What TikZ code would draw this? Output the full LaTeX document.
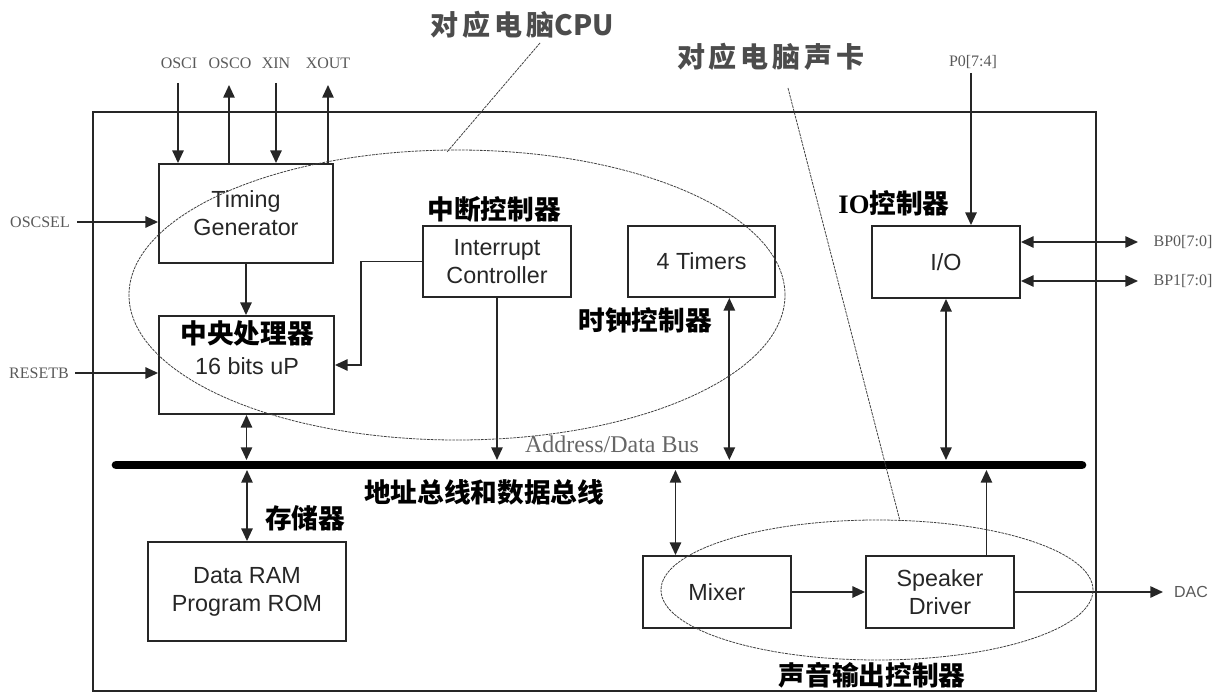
\documentclass[tikz,border=0pt]{standalone}
\usepackage{fontspec}
\setmainfont{Liberation Sans}
\newfontfamily\serif{Liberation Serif}
\newfontfamily\cjk{Noto Sans CJK SC}
\usetikzlibrary{arrows.meta,calc}
\tikzset{
  box/.style={draw=black!85, line width=1.4pt, inner sep=0pt},
  boxtxt/.style={font=\fontsize{17.5}{21}\selectfont, text=black!85, align=center},
  pin/.style={font=\serif\fontsize{12}{12}\selectfont, text=black!65, inner sep=0pt},
  cjklabel/.style={font=\cjk\bfseries\fontsize{20}{20}\selectfont, text=black, inner sep=0pt},
  toplabel/.style={font=\cjk\bfseries\fontsize{21}{21}\selectfont, text=black!70, inner sep=0pt},
  arr/.style={-{Triangle[length=9.5pt,width=8.5pt]}, line width=1.3pt, draw=black!85},
  dbl/.style={{Triangle[length=9.5pt,width=8.5pt]}-{Triangle[length=9.5pt,width=8.5pt]}, line width=1.3pt, draw=black!85},
  hint/.style={draw=black!75, line width=0.6pt, dash pattern=on 2pt off 0.7pt},
  busline/.style={line width=6.5pt, line cap=round, draw=black}
}
\begin{document}
\begin{tikzpicture}[x=0.75pt,y=-0.75pt]
\useasboundingbox (0,0) rectangle (1218,695);
% outer frame
\node[box, minimum width=752.25pt, minimum height=434.25pt] (outer) at (594.5,401.5) {};
% blocks
\node[box, boxtxt, minimum width=130.5pt, minimum height=74.25pt] (tg) at (246,213.5) {Timing\\Generator};
\node[box, minimum width=131.25pt, minimum height=73.5pt] (cpu) at (246.5,365) {};
\node[cjklabel] (cpuzh) at (247,333) {中央处理器};
\node[boxtxt] (cpuen) at (247,366) {16 bits uP};
\node[box, boxtxt, minimum width=111pt, minimum height=53.25pt] (int) at (497,261.5) {Interrupt\\Controller};
\node[box, boxtxt, minimum width=110.25pt, minimum height=53.25pt] (tim) at (701.5,261.5) {4 Timers};
\node[box, boxtxt, minimum width=111pt, minimum height=54pt] (io) at (946,262) {I/O};
\node[box, boxtxt, minimum width=148.5pt, minimum height=74.25pt] (ram) at (247,591.5) {Data RAM\\Program ROM};
\node[box, boxtxt, minimum width=111pt, minimum height=54pt] (mix) at (717,592) {Mixer};
\node[box, boxtxt, minimum width=111pt, minimum height=54pt] (spk) at (940,592) {Speaker\\Driver};
% bus
\coordinate (busL) at (116,465);
\coordinate (busR) at (1082,465);
\coordinate (busT) at (0,460);
\coordinate (busB) at (0,470);
\draw[busline] (busL) -- (busR);
\node[font=\serif\fontsize{18}{18}\selectfont, text=black!60, inner sep=0pt] (buslbl) at (612,444) {Address/Data Bus};
% pins
\coordinate (osci) at (178,83);
\coordinate (osco) at (229,85);
\coordinate (xin) at (276,83);
\coordinate (xout) at (328,85);
\node[pin] (osciL) at (179,63) {OSCI};
\node[pin] (oscoL) at (230,63) {OSCO};
\node[pin] (xinL) at (276,63) {XIN};
\node[pin] (xoutL) at (328,63) {XOUT};
\draw[arr] (osci) -- (osci |- tg.north);
\draw[arr] (osco |- tg.north) -- (osco);
\draw[arr] (xin) -- (xin |- tg.north);
\draw[arr] (xout |- tg.north) -- (xout);
\coordinate (oscsel) at (77,222);
\node[pin] (oscselL) at (40,222) {OSCSEL};
\draw[arr] (oscsel) -- (oscsel -| tg.west);
\coordinate (resetb) at (75,373);
\node[pin] (resetbL) at (39,373) {RESETB};
\draw[arr] (resetb) -- (resetb -| cpu.west);
\coordinate (p0) at (971,73);
\node[pin] (p0L) at (973,62) {P0[7:4]};
\draw[arr] (p0) -- (p0 |- io.north);
\coordinate (bp0) at (1138,242);
\coordinate (bp1) at (1138,281);
\node[pin] (bp0L) at (1183,242) {BP0[7:0]};
\node[pin] (bp1L) at (1183,281) {BP1[7:0]};
\draw[dbl] (bp0 -| io.east) -- (bp0);
\draw[dbl] (bp1 -| io.east) -- (bp1);
\coordinate (dac) at (1163,592);
\node[pin, font=\fontsize{12}{12}\selectfont] (dacL) at (1191,592) {DAC};
\draw[arr] (spk.east) -- (dac);
% internal connections
\draw[arr] (tg.south) -- (tg.south |- cpu.north);
\draw[arr] (int.west) -- ++(-61,0) |- (cpu.east);
\draw[dbl] (cpu.south) -- (cpu.south |- busT);
\draw[dbl] (ram.north |- busB) -- (ram.north);
\draw[arr] (int.south) -- (int.south |- busT);
\coordinate (timx) at ($(tim.south west)!0.687!(tim.south east)$);
\draw[dbl] (timx) -- (timx |- busT);
\draw[dbl] (io.south) -- (io.south |- busT);
\coordinate (mixx) at ($(mix.north west)!0.223!(mix.north east)$);
\draw[dbl] (mixx |- busB) -- (mixx);
\coordinate (spkx) at ($(spk.north west)!0.81!(spk.north east)$);
\draw[arr] (spkx) -- (spkx |- busB);
\draw[arr] (mix.east) -- (spk.west);
% labels
\node[cjklabel] (intzh) at (494,209) {中断控制器};
\node[cjklabel] (timzh) at (645,320) {时钟控制器};
\node[cjklabel] (iozh) at (894,203) {{\serif\bfseries IO}控制器};
\node[cjklabel] (ramzh) at (305,518) {存储器};
\node[cjklabel] (buszh) at (484,492) {地址总线和数据总线};
\node[cjklabel] (sndzh) at (872,675) {声音输出控制器};
% highlight ellipses and callouts
\draw[hint] (457,295) ellipse [x radius=246pt, y radius=108.75pt];
\draw[hint] (877,590) ellipse [x radius=162pt, y radius=52.5pt];
\node[toplabel] (cpucall) at (522,25) {对\hspace{3pt}应\hspace{3pt}电\hspace{3pt}脑CPU};
\node[toplabel] (sndcall) at (771,57) {对\hspace{3pt}应\hspace{3pt}电\hspace{3pt}脑\hspace{3pt}声\hspace{3pt}卡};
\coordinate (cpuA) at (540,43);
\coordinate (cpuB) at (447,152);
\coordinate (sndA) at (788,88);
\coordinate (sndB) at (900,521);
\draw[hint] (cpuA) -- (cpuB);
\draw[hint] (sndA) -- (sndB);
\end{tikzpicture}
\end{document}
